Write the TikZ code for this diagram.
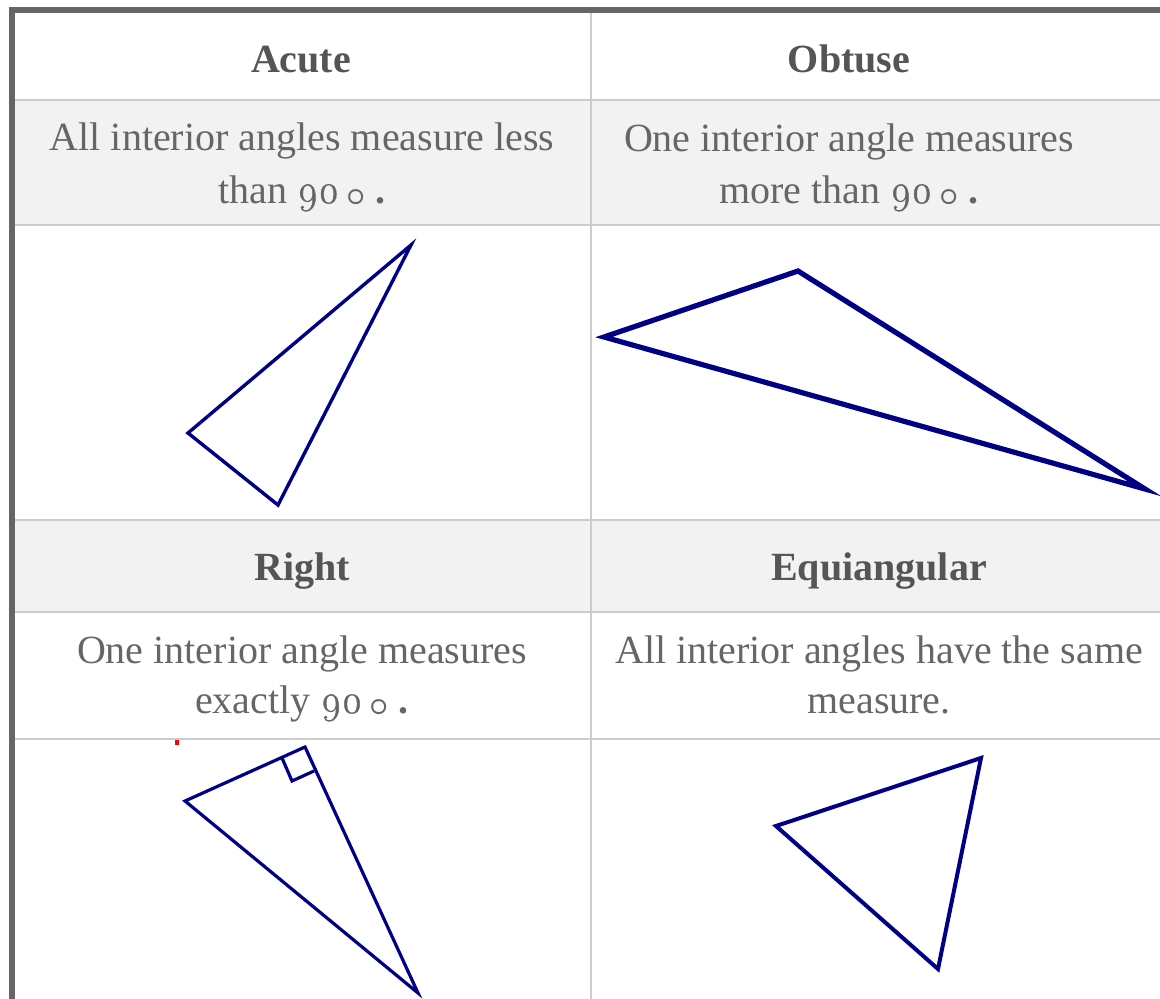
\documentclass[tikz,border=0pt]{standalone}
\usepackage{fontspec}
\setmainfont{Liberation Serif}
\newfontfamily\osfont[Numbers=OldStyle,FakeBold=1.2]{Latin Modern Roman}
\definecolor{hdrgray}{HTML}{555555}
\definecolor{bodygray}{HTML}{666666}
\definecolor{rulegray}{HTML}{CCCCCC}
\definecolor{framegray}{HTML}{666666}
\definecolor{rowfill}{HTML}{F2F2F2}
\definecolor{trinavy}{HTML}{000085}
\newcommand\ninety{{\osfont 90}\hspace{7pt}\raisebox{-2.5pt}{\scalebox{1.35}{$\boldsymbol{\circ}$}}\hspace{10pt}\textbf{.}}
\usepackage{amsmath}
\tikzset{
  txt/.style={anchor=base, inner sep=0pt, text=bodygray, font=\fontsize{40}{53}\selectfont},
  hd/.style={anchor=base, inner sep=0pt, text=hdrgray, font=\fontsize{40}{53}\selectfont\bfseries},
  rule/.style={draw=rulegray, line width=1.6pt},
  tri/.style={draw=trinavy, line join=miter, miter limit=10},
}
\begin{document}
\begin{tikzpicture}[x=1pt,y=-1pt]
\useasboundingbox (0,0) rectangle (1160,999);
% row fills
\fill[rowfill] (15,100) rectangle (1160,225);
\fill[rowfill] (15,520) rectangle (1160,612);
% rules
\draw[rule] (15,100) -- (1160,100);
\draw[rule] (15,225) -- (1160,225);
\draw[rule] (15,520) -- (1160,520);
\draw[rule] (15,612) -- (1160,612);
\draw[rule] (15,739) -- (1160,739);
\draw[rule] (590.8,13) -- (590.8,999);
% frame
\fill[framegray] (9.3,7.3) rectangle (1160,12.8);
\fill[framegray] (9.3,7.3) rectangle (15,999);
% texts
\node[hd] (hA) at (301,72) {Acute};
\node[hd] (hO) at (849,72) {Obtuse};
\node[txt] (a1) at (302,150) {All interior angles measure less};
\node[txt] (a2) at (302,203) {than \ninety};
\node[txt] (o1) at (849,151) {One interior angle measures};
\node[txt] (o2) at (849,203) {more than \ninety};
\node[hd] (hR) at (302,580) {Right};
\node[hd] (hE) at (879,580) {Equiangular};
\node[txt] (r1) at (302,663) {One interior angle measures};
\node[txt] (r2) at (302,713) {exactly \ninety};
\node[txt] (e1) at (879,663) {All interior angles have the same};
\node[txt] (e2) at (879,713) {measure.};
% acute triangle
\coordinate (A1) at (411,245);
\coordinate (A2) at (188,433);
\coordinate (A3) at (278,505);
\draw[tri, line width=3.4pt] (A1) -- (A2) -- (A3) -- cycle;
% obtuse triangle
\coordinate (O1) at (604,337);
\coordinate (O2) at (798,271);
\coordinate (O3) at (1145,489);
\draw[tri, line width=5.2pt] (O1) -- (O2) -- (O3) -- cycle;
% right triangle
\coordinate (R1) at (185,801);
\coordinate (R2) at (305,747);
\coordinate (R3) at (418,993);
\draw[tri, line width=3.2pt] (R1) -- (R2) -- (R3) -- cycle;
\coordinate (Q1) at (282,758);
\coordinate (Q2) at (292,781);
\coordinate (Q3) at (314,771);
\draw[tri, line width=3.2pt] (Q1) -- (Q2) -- (Q3);
\fill[red] (175,740) rectangle (179,745);
% equiangular triangle
\coordinate (E1) at (776,826);
\coordinate (E2) at (981,758);
\coordinate (E3) at (938,969);
\draw[tri, line width=4pt] (E1) -- (E2) -- (E3) -- cycle;
\end{tikzpicture}
\end{document}
